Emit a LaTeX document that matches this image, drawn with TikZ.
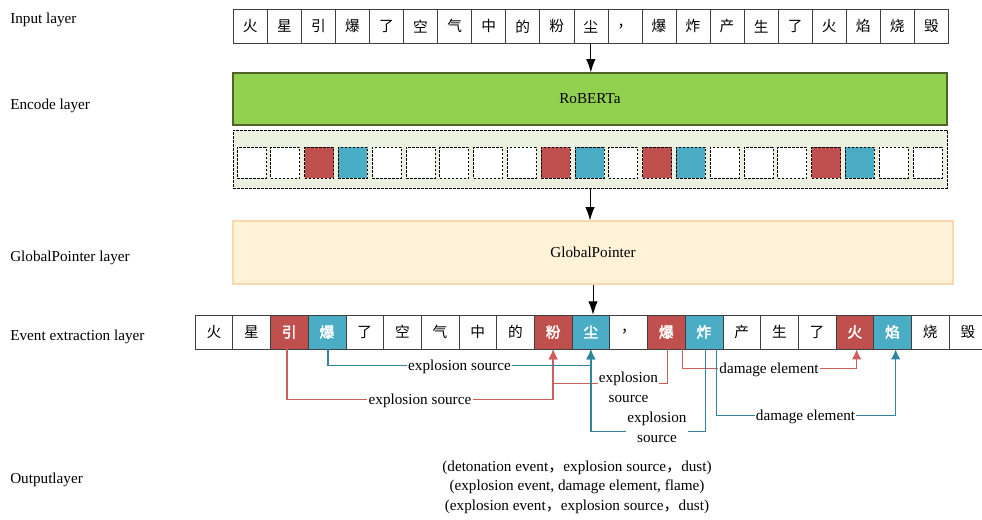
\documentclass[tikz,border=0pt]{standalone}
\usepackage{fontspec}
\setmainfont{Liberation Serif}
\newfontfamily\cjk{Noto Sans CJK SC}
\newfontfamily\cjkb[FakeBold=2.5]{Noto Sans CJK SC}
\usetikzlibrary{arrows.meta}
\definecolor{cred}{RGB}{192,80,77}
\definecolor{cblue}{RGB}{75,172,198}
\definecolor{lred}{RGB}{205,95,90}
\definecolor{lblue}{RGB}{49,133,155}
\definecolor{robfill}{RGB}{146,208,80}
\definecolor{robdraw}{RGB}{79,98,40}
\definecolor{encfill}{RGB}{235,241,222}
\definecolor{gpfill}{RGB}{255,242,214}
\definecolor{gpdraw}{RGB}{250,215,175}
\definecolor{celldraw}{RGB}{64,64,64}
\begin{document}
\begin{tikzpicture}[x=0.75pt,y=-0.75pt,
  lab/.style={font=\fontsize{11.4}{15}\selectfont, inner sep=1pt, fill=white, align=center},
  side/.style={font=\fontsize{11.4}{15}\selectfont, anchor=west, inner sep=0pt},
  incell/.style={draw=celldraw, minimum width=25.54pt, minimum height=25.7pt, inner sep=0pt, font=\cjk\fontsize{11}{13}\selectfont},
  evcell/.style={draw=celldraw, minimum width=28.275pt, minimum height=25.5pt, inner sep=0pt, font=\cjk\fontsize{11}{13}\selectfont},
  n/.style={},
  hr/.style={fill=cred, text=white, font=\cjkb\fontsize{11}{13}\selectfont},
  hb/.style={fill=cblue, text=white, font=\cjkb\fontsize{11}{13}\selectfont},
  sqn/.style={fill=white},
  sqr/.style={fill=cred},
  sqb/.style={fill=cblue},
  sqbox/.style={draw=black, dash pattern=on 2pt off 1pt, line width=0.5pt, minimum width=21.75pt, minimum height=23.25pt, inner sep=0pt},
  bigbox/.style={minimum width=535.5pt, inner sep=0pt, font=\fontsize{11.4}{14}\selectfont},
  arr/.style={-{Latex[length=10pt,width=7pt]}, black, line width=0.7pt},
  rc/.style={draw=lred, line width=1pt, -{Latex[length=7.5pt,width=7pt]}},
  bc/.style={draw=lblue, line width=1pt, -{Latex[length=7.5pt,width=7pt]}}
]
\useasboundingbox (0,0) rectangle (982,519);

% side labels
\node[side] (l1) at (10,20) {Input layer};
\node[side] (l2) at (10,106) {Encode layer};
\node[side] (l3) at (10,258) {GlobalPointer layer};
\node[side] (l4) at (10,337) {Event extraction layer};
\node[side] (l5) at (10,480) {Outputlayer};

% input row
\foreach \c [count=\i] in {火,星,引,爆,了,空,气,中,的,粉,尘,，,爆,炸,产,生,了,火,焰,烧,毁}
  \node[incell] (in\i) at ({233.3+(\i-0.5)*34.05},26.3) {\c};

% RoBERTa
\node[bigbox, draw=robdraw, fill=robfill, line width=0.8pt, minimum height=39pt] (rob) at (590,99) {\raisebox{-2pt}{RoBERTa}};

% encoding box
\node[bigbox, draw=black, dash pattern=on 2pt off 1pt, line width=0.5pt, fill=encfill, minimum height=43.5pt] (enc) at (590,159) {};
\foreach \s [count=\i] in {sqn,sqn,sqr,sqb,sqn,sqn,sqn,sqn,sqn,sqr,sqb,sqn,sqr,sqb,sqn,sqn,sqn,sqr,sqb,sqn,sqn}
  \node[sqbox,\s] (sq\i) at ({251.5+(\i-1)*33.8},162.8) {};

% GlobalPointer
\node[bigbox, draw=gpdraw, fill=gpfill, line width=0.8pt, minimum width=540pt, minimum height=47.25pt] (gp) at (593,252.5) {GlobalPointer};

% event row
\foreach \c/\s [count=\i] in {火/n,星/n,引/hr,爆/hb,了/n,空/n,气/n,中/n,的/n,粉/hr,尘/hb,，/n,爆/hr,炸/hb,产/n,生/n,了/n,火/hr,焰/hb,烧/n,毁/n}
  \node[evcell,\s] (e\i) at ({195+(\i-0.5)*37.7},332) {\c};

% layer arrows
\draw[arr] (in11.south) -- (in11.south |- rob.north);
\draw[arr] (enc.south) -- (enc.south |- gp.north);
\draw[arr] (gp.south) -- (gp.south |- e11.north);

% connectors
\draw[rc] ([xshift=-1.7pt]e3.south) -- ++(0,50) -| (e10.south);
\draw[rc] ([xshift=1pt]e13.south) -- ++(0,34) -| (e10.south);
\draw[rc] ([xshift=12.3pt]e13.south) -- ++(0,19) -| ([xshift=1.4pt]e18.south);
\draw[bc] ([xshift=0.8pt]e4.south) -- ++(0,16) -| (e11.south);
\draw[bc] ([xshift=1.3pt]e14.south) -- ++(0,82) -| (e11.south);
\draw[bc] ([xshift=9.5pt]e14.south) -- ++(0,66) -| ([xshift=2.4pt]e19.south);

% connector labels
\node[lab] (t1) at (459.5,367) {explosion source};
\node[lab] (t2) at (420,401) {explosion source};
\node[lab] (t3) at (628.5,387) {explosion\\source};
\node[lab] (t4) at (657,427.5) {explosion\\source};
\node[lab] (t5) at (769,370) {damage element};
\node[lab] (t6) at (805.5,417) {damage element};

% output
\node[align=center, inner sep=0pt, font=\fontsize{11.4}{14.6}\selectfont] (out) at (577,487)
  {(detonation event{\cjk，}explosion source{\cjk，}dust)\\
   (explosion event, damage element, flame)\\
   (explosion event{\cjk，}explosion source{\cjk，}dust)};
\end{tikzpicture}
\end{document}
